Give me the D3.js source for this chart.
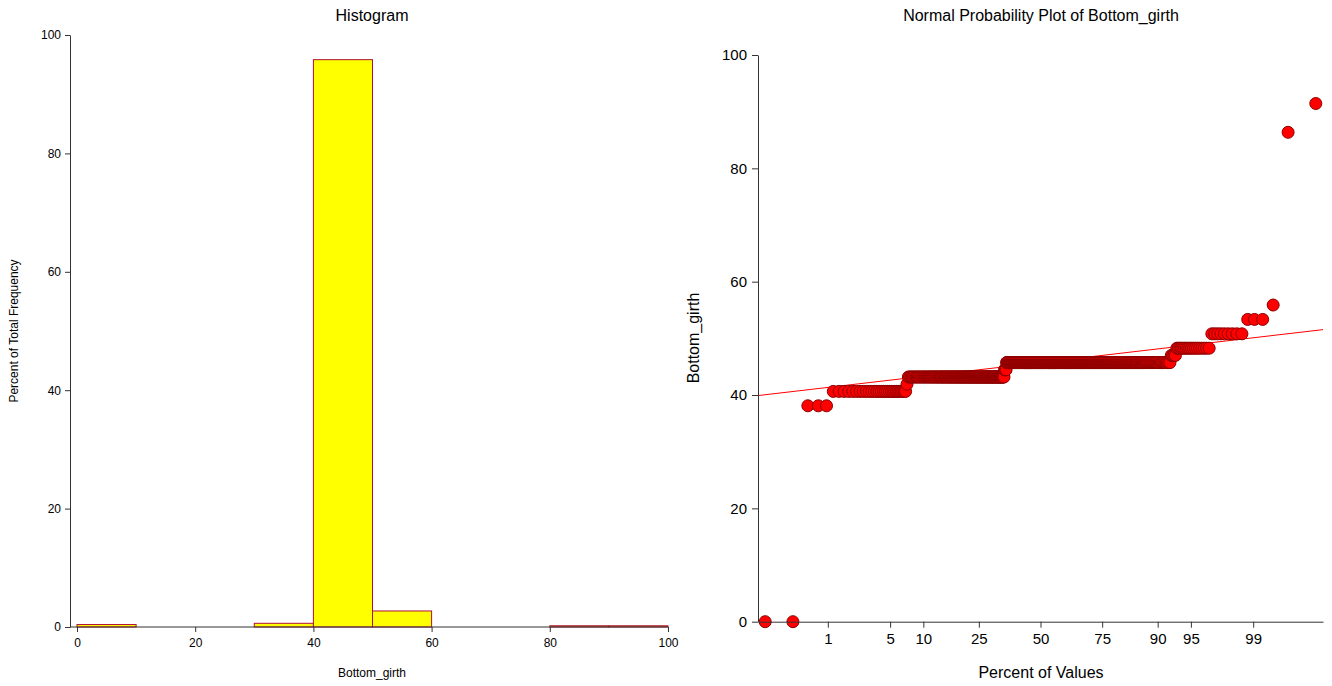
<!DOCTYPE html>
<html>
<head>
<meta charset="utf-8">
<script src="https://cdn.jsdelivr.net/npm/d3@7"></script>
<style>
  body { margin: 0; background: #fff; }
  svg text { font-family: Arial, "Liberation Sans", sans-serif; fill: #000; }
</style>
</head>
<body>
<svg id="chart" width="1332" height="686"></svg>
<script>
// Bottom_girth values (distinct values and how many rows have each)
const girthValues = [0, 38.1, 40.64, 41.91, 43.18, 44.45, 45.72, 46.99, 48.26, 50.8, 53.34, 55.88, 86.36, 91.44];
const girthCounts = [2, 3, 29, 1, 131, 4, 273, 4, 18, 9, 3, 1, 1, 1];

const histTicks = [0, 20, 40, 60, 80, 100];
const histThresholds = [10, 20, 30, 40, 50, 60, 70, 80, 90];
const yTicks = [0, 20, 40, 60, 80, 100];
const pctTicks = [1, 5, 10, 25, 50, 75, 90, 95, 99];

// expand to sorted raw values
const girth = [];
girthValues.forEach((v, i) => { for (let k = 0; k < girthCounts[i]; k++) girth.push(v); });
girth.sort(d3.ascending);
const n = girth.length;

// inverse normal cdf (Acklam)
function qnorm(p) {
  const a = [-3.969683028665376e+01, 2.209460984245205e+02, -2.759285104469687e+02, 1.383577518672690e+02, -3.066479806614716e+01, 2.506628277459239e+00];
  const b = [-5.447609879822406e+01, 1.615858368580409e+02, -1.556989798598866e+02, 6.680131188771972e+01, -1.328068155288572e+01];
  const c = [-7.784894002430293e-03, -3.223964580411365e-01, -2.400758277161838e+00, -2.549732539343734e+00, 4.374664141464968e+00, 2.938163982698783e+00];
  const d = [7.784695709041462e-03, 3.224671290700398e-01, 2.445134137142996e+00, 3.754408661907416e+00];
  const pl = 0.02425;
  let q, r;
  if (p < pl) {
    q = Math.sqrt(-2 * Math.log(p));
    return (((((c[0]*q+c[1])*q+c[2])*q+c[3])*q+c[4])*q+c[5]) / ((((d[0]*q+d[1])*q+d[2])*q+d[3])*q+1);
  } else if (p <= 1 - pl) {
    q = p - 0.5; r = q * q;
    return (((((a[0]*r+a[1])*r+a[2])*r+a[3])*r+a[4])*r+a[5])*q / (((((b[0]*r+b[1])*r+b[2])*r+b[3])*r+b[4])*r+1);
  } else {
    q = Math.sqrt(-2 * Math.log(1 - p));
    return -(((((c[0]*q+c[1])*q+c[2])*q+c[3])*q+c[4])*q+c[5]) / ((((d[0]*q+d[1])*q+d[2])*q+d[3])*q+1);
  }
}

const svg = d3.select("#chart");
const axisColor = "#333";

////////////////////////// Histogram //////////////////////////
const hx = d3.scaleLinear().domain([0, 100]).range([77, 668]);
const hy = d3.scaleLinear().domain([0, 100]).range([627, 35]);
const yAxisX = 70;

const bins = d3.bin().domain([0, 100]).thresholds(histThresholds)(girth);

const hist = svg.append("g");

hist.selectAll(".bar")
  .data(bins)
  .enter().append("rect")
  .attr("class", "bar")
  .attr("x", d => hx(d.x0))
  .attr("width", d => hx(d.x1) - hx(d.x0))
  .attr("y", d => hy(d.length / n * 100))
  .attr("height", d => hy(0) - hy(d.length / n * 100))
  .style("fill", "#ffff00")
  .style("stroke", "#b0103a")
  .style("stroke-width", 1)
  .style("display", d => d.length ? null : "none");

const hyAxis = hist.append("g")
  .attr("transform", `translate(${yAxisX},0)`)
  .call(d3.axisLeft(hy).tickValues(yTicks).tickSize(5).tickSizeOuter(0).tickPadding(4));
const hxAxis = hist.append("g")
  .attr("transform", `translate(0,${hy(0)})`)
  .call(d3.axisBottom(hx).tickValues(histTicks).tickSize(5).tickSizeOuter(0).tickPadding(6));
hxAxis.select(".domain").remove();
hist.append("line")
  .attr("x1", yAxisX).attr("x2", hx(100))
  .attr("y1", hy(0)).attr("y2", hy(0))
  .style("stroke", axisColor);
[hyAxis, hxAxis].forEach(a => {
  a.selectAll("text").style("font-size", "12px").style("font-family", "Arial, 'Liberation Sans', sans-serif");
  a.selectAll("line,path").style("stroke", axisColor);
});

hist.append("text")
  .attr("x", 372).attr("y", 21)
  .style("text-anchor", "middle").style("font-size", "16px")
  .text("Histogram");
hist.append("text")
  .attr("x", 372).attr("y", 677)
  .style("text-anchor", "middle").style("font-size", "12px")
  .text("Bottom_girth");
hist.append("text")
  .attr("transform", "rotate(-90)")
  .attr("x", -331).attr("y", 18)
  .style("text-anchor", "middle").style("font-size", "12px")
  .text("Percent of Total Frequency");

////////////////////////// Normal probability plot //////////////////////////
const px = d3.scaleLinear().domain([-3.09, 3.09]).range([758, 1323]);
const py = d3.scaleLinear().domain([0, 100]).range([621.7, 55]);

const points = girth.map((v, i) => ({ z: qnorm((i + 1 - 0.375) / (n + 0.25)), v: v }));

// reference line through median with slope IQR/1.349
const q1 = d3.quantile(girth, 0.25), q3 = d3.quantile(girth, 0.75), med = d3.quantile(girth, 0.5);
const slope = (q3 - q1) / (2 * qnorm(0.75));
const zDom = px.domain();

const npp = svg.append("g");

npp.append("line")
  .attr("x1", px(zDom[0])).attr("y1", py(med + slope * zDom[0]))
  .attr("x2", px(zDom[1])).attr("y2", py(med + slope * zDom[1]))
  .style("stroke", "#ff0000")
  .style("stroke-width", 1);

npp.selectAll(".pt")
  .data(points)
  .enter().append("circle")
  .attr("class", "pt")
  .attr("cx", d => px(d.z))
  .attr("cy", d => py(d.v))
  .attr("r", 6)
  .style("fill", "#ff0000")
  .style("stroke", "#8b0000")
  .style("stroke-width", 1);

const pyAxis = npp.append("g")
  .attr("transform", `translate(${px.range()[0]},0)`)
  .call(d3.axisLeft(py).tickValues(yTicks).tickSize(6).tickSizeOuter(0).tickPadding(5));
const pxAxis = npp.append("g")
  .attr("transform", `translate(0,${py(0)})`)
  .call(d3.axisBottom(px)
    .tickValues(pctTicks.map(p => qnorm(p / 100)))
    .tickFormat((d, i) => pctTicks[i])
    .tickSize(6).tickSizeOuter(0).tickPadding(6));
[pyAxis, pxAxis].forEach(a => {
  a.selectAll("text").style("font-size", "15px").style("font-family", "Arial, 'Liberation Sans', sans-serif");
  a.selectAll("line,path").style("stroke", axisColor);
});

npp.append("text")
  .attr("x", 1041).attr("y", 21)
  .style("text-anchor", "middle").style("font-size", "16px")
  .text("Normal Probability Plot of Bottom_girth");
npp.append("text")
  .attr("x", 1041).attr("y", 678)
  .style("text-anchor", "middle").style("font-size", "16px")
  .text("Percent of Values");
npp.append("text")
  .attr("transform", "rotate(-90)")
  .attr("x", -338).attr("y", 699)
  .style("text-anchor", "middle").style("font-size", "16px")
  .text("Bottom_girth");
</script>
</body>
</html>
